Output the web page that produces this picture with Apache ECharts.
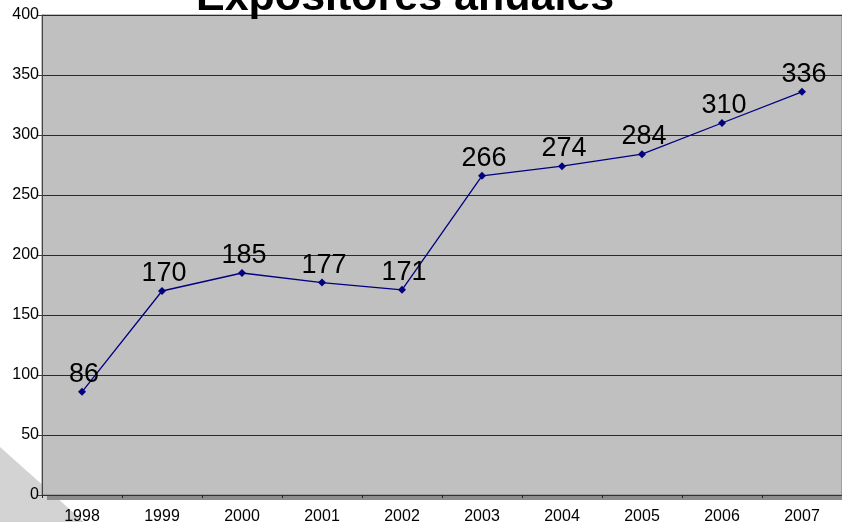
<!DOCTYPE html>
<html><head><meta charset="utf-8">
<script src="https://cdn.jsdelivr.net/npm/echarts@6/dist/echarts.min.js"></script>
<style>html,body{margin:0;padding:0;background:#fff}#c{width:842px;height:522px}</style>
</head><body><div id="c"></div>
<script>
const titleText = "Expositores anuales";
const years = ["1998","1999","2000","2001","2002","2003","2004","2005","2006","2007"];
const exhibitors = [86,170,185,177,171,266,274,284,310,336];
const yTicks = {min:0, max:400, interval:50};

const chart = echarts.init(document.getElementById('c'));
chart.setOption({
  animation:false,
  backgroundColor:'#ffffff',
  title:{text:titleText,left:196,top:-23,itemGap:0,padding:0,
    textStyle:{fontFamily:'Liberation Sans, Arial',fontSize:43,fontWeight:'bold',color:'#000'}},
  graphic:[
    {type:'polygon',z:-1,shape:{points:[[0,447],[84,522],[0,522]]},style:{fill:'#d3d3d3'}},
    {type:'rect',z:0,shape:{x:47,y:495,width:795,height:5},style:{fill:'#8c8c8c'}}
  ],
  grid:{left:42,right:0,top:15,bottom:27,outerBoundsMode:'none',containLabel:false,show:true,backgroundColor:'#c0c0c0',borderColor:'#808080',borderWidth:1},
  xAxis:{type:'category',data:years,boundaryGap:true,
    axisLine:{lineStyle:{color:'#333',width:1}},
    axisTick:{show:true,length:3,lineStyle:{color:'#222'}},
    axisLabel:{fontFamily:'Liberation Sans, Arial',fontSize:16,color:'#000',margin:14}},
  yAxis:{type:'value',min:yTicks.min,max:yTicks.max,interval:yTicks.interval,
    axisLine:{show:true,lineStyle:{color:'#444',width:1}},
    axisTick:{show:true,length:4,lineStyle:{color:'#444'}},
    splitLine:{lineStyle:{color:'#2a2a2a',width:1}},
    axisLabel:{fontFamily:'Liberation Sans, Arial',fontSize:16,color:'#000',margin:3}},
  series:[{type:'line',data:exhibitors,symbol:'diamond',symbolSize:8,
    lineStyle:{color:'#000080',width:1.3},itemStyle:{color:'#000080'},
    label:{show:true,position:'top',distance:0,offset:[2,0],fontFamily:'Liberation Sans, Arial',fontSize:27,color:'#000'}}]
});
</script></body></html>
